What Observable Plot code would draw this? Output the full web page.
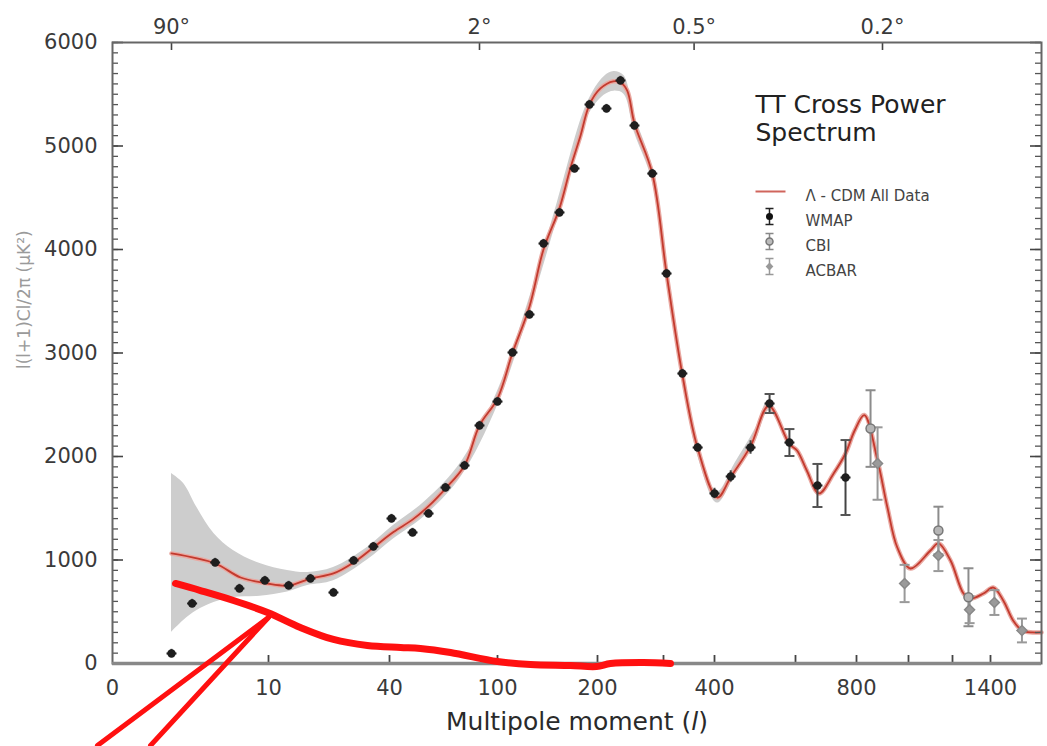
<!DOCTYPE html>
<html><head><meta charset="utf-8">
<script src="https://cdn.jsdelivr.net/npm/d3@7"></script>
<script src="https://cdn.jsdelivr.net/npm/@observablehq/plot@0.6"></script>
<style>body{margin:0;background:#fff;} #chart svg{display:block;}</style>
</head><body><div id="chart"></div>
<script>
// ---------- axis definitions ----------
const xLabelTicks = [0, 10, 40, 100, 200, 400, 800, 1400];
const xMinorTicks = [10, 40, 100, 200, 300, 400, 600, 800, 1000, 1200, 1400];
const topTickL = [2, 90, 360, 900];
const topTickLabels = ["90°", "2°", "0.5°", "0.2°"];
const yMajorTicks = [0, 1000, 2000, 3000, 4000, 5000, 6000];
const yMinorTicks = d3.range(0, 6001, 100);
const xTitle = "Multipole moment (l)";
const yTitle = "l(l+1)Cl/2π (μK²)";
const titleText = "TT Cross Power\nSpectrum";
const legendLabels = ["Λ - CDM All Data", "WMAP", "CBI", "ACBAR"];

// ---------- WMAP ----------
const wmapL = [2, 3.7, 5.6, 7.6, 9.7, 15, 20.4, 26.1, 31.1, 36, 41.1, 52.8, 61.7, 71.1, 81.7, 90, 100, 115, 132, 146, 162, 177, 192, 213.6, 234.8, 256, 283, 306, 337, 367, 400, 440, 489, 536, 585, 672, 764];
const wmapV = [97, 580, 976, 725, 802, 754, 821, 686, 995, 1130, 1401, 1266, 1449, 1700, 1913, 2300, 2531, 3005, 3372, 4058, 4358, 4783, 5401, 5362, 5633, 5198, 4734, 3768, 2802, 2087, 1643, 1807, 2087, 2512, 2135, 1720, 1797];
const wmapErr = [40, 40, 40, 40, 40, 40, 40, 40, 40, 40, 40, 40, 40, 40, 40, 40, 40, 40, 40, 40, 40, 40, 40, 40, 40, 40, 40, 40, 40, 40, 50, 55, 65, 92, 130, 208, 362];

// ---------- CBI ----------
const cbiL = [854, 1136, 1284];
const cbiV = [2270, 1285, 640];
const cbiErr = [370, 230, 280];

// ---------- ACBAR ----------
const acbarL = [881, 985, 1136, 1290, 1423, 1585];
const acbarV = [1932, 773, 1043, 520, 589, 319];
const acbarErr = [350, 180, 150, 130, 120, 115];

// ---------- Lambda-CDM model ----------
const modelL = [2, 5.6, 7.7, 9.9, 15, 20.4, 26.1, 31.1, 36, 42.2, 52.8, 61.7, 71.1, 81.7, 90, 100, 115, 132, 146, 162, 173, 183, 192, 204.5, 224, 235, 245, 256, 283, 306, 337, 367, 407, 440, 489, 534, 585, 605, 637, 677, 725, 764, 794, 830, 881, 919, 957, 1009, 1100, 1136, 1191, 1258, 1295, 1363, 1417, 1475, 1533, 1585, 1648, 1700];
const modelV = [1063, 966, 831, 773, 754, 821, 870, 976, 1121, 1270, 1390, 1520, 1690, 1913, 2300, 2560, 3000, 3450, 4000, 4400, 4790, 5100, 5400, 5556, 5625, 5613, 5536, 5217, 4734, 3768, 2790, 2080, 1604, 1800, 2100, 2490, 2120, 2058, 1865, 1643, 1836, 2029, 2251, 2400, 1961, 1507, 1121, 918, 1092, 1160, 995, 676, 628, 676, 734, 609, 415, 319, 300, 300];

// ---------- cosmic variance band ----------
const bandL = [2, 3, 4.1, 5.5, 7.1, 9.3, 14.7, 19.7, 26.1, 34.5, 42, 60, 80, 100, 130, 160, 190, 210, 225, 240, 256, 283, 306, 340, 370, 407, 450, 500, 534, 570];
const bandHi = [1836, 1739, 1507, 1256, 1092, 966, 899, 879, 927, 1120, 1330, 1570, 1950, 2630, 3470, 4460, 5420, 5670, 5720, 5680, 5300, 4800, 3840, 2790, 2100, 1660, 1930, 2260, 2540, 2270];
const bandLo = [300, 415, 512, 589, 638, 650, 690, 754, 800, 1000, 1200, 1430, 1810, 2490, 3330, 4300, 5280, 5490, 5530, 5500, 5130, 4660, 3700, 2650, 1960, 1550, 1810, 2130, 2440, 2230];

// ---------- hand-drawn red annotation ----------
const annoL = [2.33, 4.39, 7.11, 9.92, 17.9, 26.1, 34.5, 46.1, 57.2, 73.9, 100, 133, 173, 199, 219.7, 269.7, 313.7];
const annoV = [773, 705, 609, 493, 348, 232, 174, 155, 145, 106, 19, -10, -19, -29, 0, 10, 0];
const strokeAL = [-0.51, 10];
const strokeAV = [-792, 444];
const strokeBL = [1.29, 9.92];
const strokeBV = [-792, 435];

// ---------- tables ----------
const mk = (L, V, E) => L.map((l, i) => ({l, v: V[i], lo: V[i] - (E ? E[i] : 0), hi: V[i] + (E ? E[i] : 0)}));
const wmap = mk(wmapL, wmapV, wmapErr);
const cbi = mk(cbiL, cbiV, cbiErr);
const acbar = mk(acbarL, acbarV, acbarErr);
const model = mk(modelL, modelV);
const band = bandL.map((l, i) => ({l, lo: bandLo[i], hi: bandHi[i]}));
const anno = mk(annoL, annoV);
const strokes = [...mk(strokeAL, strokeAV).map(d => ({...d, k: "a"})), ...mk(strokeBL, strokeBV).map(d => ({...d, k: "b"}))];

const hline = {draw(ctx, size) { const r = Math.sqrt(size / Math.PI); ctx.moveTo(-r, 0); ctx.lineTo(r, 0); }};
const errGlyph = {draw(ctx, size) { const r = Math.sqrt(size / Math.PI); const w = r * 0.5;
  ctx.moveTo(-w, -r); ctx.lineTo(w, -r); ctx.moveTo(0, -r); ctx.lineTo(0, r); ctx.moveTo(-w, r); ctx.lineTo(w, r); }};

const FW = 929, FH = 621; // frame size
const redModel = "#c33a2e";

const chart = Plot.plot({
  width: 1047, height: 746,
  marginTop: 42, marginBottom: 83, marginLeft: 112, marginRight: 6,
  style: {fontFamily: "'DejaVu Sans', sans-serif", background: "#fff", color: "#333", fontSize: "21px"},
  x: {type: "linear", domain: [0, 2, 10, 40, 100, 200, 300, 400, 600, 800, 1000, 1200, 1400, 1700],
      range: [112, 171, 268, 389, 497, 597, 663, 714, 795, 856, 908, 952, 990, 1041]},
  y: {domain: [0, 6000]},
  marks: [
    Plot.areaY(band, {x: "l", y1: "lo", y2: "hi", fill: "#cdcdcd", curve: "catmull-rom"}),
    Plot.line(model, {x: "l", y: "v", stroke: "#e9a9a2", strokeWidth: 4.5, curve: "catmull-rom"}),
    Plot.line(model, {x: "l", y: "v", stroke: redModel, strokeWidth: 1.8, curve: "catmull-rom"}),
    // error bars
    Plot.ruleX(cbi, {x: "l", y1: "lo", y2: "hi", stroke: "#8c8c8c", strokeWidth: 2}),
    Plot.dot(cbi, {x: "l", y: "lo", symbol: hline, r: 5, stroke: "#8c8c8c", strokeWidth: 2}),
    Plot.dot(cbi, {x: "l", y: "hi", symbol: hline, r: 5, stroke: "#8c8c8c", strokeWidth: 2}),
    Plot.ruleX(acbar, {x: "l", y1: "lo", y2: "hi", stroke: "#999", strokeWidth: 2}),
    Plot.dot(acbar, {x: "l", y: "lo", symbol: hline, r: 5, stroke: "#999", strokeWidth: 2}),
    Plot.dot(acbar, {x: "l", y: "hi", symbol: hline, r: 5, stroke: "#999", strokeWidth: 2}),
    Plot.ruleX(wmap, {x: "l", y1: "lo", y2: "hi", stroke: "#444", strokeWidth: 2}),
    Plot.dot(wmap.filter(d => d.hi - d.v > 80), {x: "l", y: "lo", symbol: hline, r: 5, stroke: "#555", strokeWidth: 2}),
    Plot.dot(wmap.filter(d => d.hi - d.v > 80), {x: "l", y: "hi", symbol: hline, r: 5, stroke: "#555", strokeWidth: 2}),
    Plot.dot(wmap, {x: "l", y: "v", symbol: hline, r: 5, stroke: "#222", strokeWidth: 2}),
    Plot.dot(cbi, {x: "l", y: "v", r: 4.5, fill: "#b5b5b5", stroke: "#777", strokeWidth: 1.5}),
    Plot.dot(acbar, {x: "l", y: "v", r: 4.5, symbol: "diamond2", fill: "#9a9a9a", stroke: "#888"}),
    Plot.dot(wmap, {x: "l", y: "v", r: 4.2, fill: "#1e1e1e"}),
    // frame and inward ticks
    Plot.tickY(yMinorTicks, {y: d => d, insetRight: FW - 6, stroke: "#555", strokeWidth: 1.3}),
    Plot.tickY(yMajorTicks, {y: d => d, insetRight: FW - 11, stroke: "#444", strokeWidth: 1.6}),
    Plot.tickY(yMinorTicks, {y: d => d, insetLeft: FW - 6, stroke: "#555", strokeWidth: 1.3}),
    Plot.tickY(yMajorTicks, {y: d => d, insetLeft: FW - 11, stroke: "#444", strokeWidth: 1.6}),
    Plot.tickX(xMinorTicks, {x: d => d, insetTop: FH - 8, stroke: "#444", strokeWidth: 1.8}),
    Plot.tickX(topTickL, {x: d => d, insetBottom: FH - 8, stroke: "#444", strokeWidth: 1.6}),
    Plot.frame({stroke: "#666", strokeWidth: 2}),
    Plot.ruleY([0], {stroke: "#888", strokeWidth: 3.5}),
    // axes labels
    Plot.axisY({ticks: yMajorTicks, tickSize: 0, tickPadding: 15, tickFormat: d3.format("d"), label: null, fill: "#3a3a3a"}),
    Plot.axisX({ticks: xLabelTicks, tickSize: 0, tickPadding: 17, tickFormat: d => String(d), label: null, fill: "#3a3a3a"}),
    Plot.axisX({anchor: "top", ticks: topTickL, tickSize: 0, tickPadding: 9,
                tickFormat: d => topTickLabels[topTickL.indexOf(d)], label: null, fill: "#3a3a3a"}),
    Plot.text([xTitle], {frameAnchor: "bottom", dy: 66, fontSize: 25, fill: "#2a2a2a"}),
    Plot.text([yTitle], {frameAnchor: "left", dx: -88, dy: 16, rotate: -90, fontSize: 17, fill: "#9a9a9a"}),
    // title and legend
    Plot.text([titleText], {frameAnchor: "top-left", dx: 643, dy: 51, textAnchor: "start", lineAnchor: "top", fontSize: 25, lineHeight: 1.12, fill: "#222"}),
    Plot.text([legendLabels.join("\n")], {frameAnchor: "top-left", dx: 693, dy: 141, textAnchor: "start", lineAnchor: "top", fontSize: 15, lineHeight: 1.67, fill: "#444"}),
    Plot.dot([0], {frameAnchor: "top-left", dx: 658, dy: 149, symbol: hline, r: 15, stroke: "#d0655c", strokeWidth: 2}),
    Plot.dot([0], {frameAnchor: "top-left", dx: 657, dy: 174, symbol: errGlyph, r: 8, stroke: "#222", strokeWidth: 1.5}),
    Plot.dot([0], {frameAnchor: "top-left", dx: 657, dy: 174, r: 3.5, fill: "#111"}),
    Plot.dot([0], {frameAnchor: "top-left", dx: 657, dy: 199, symbol: errGlyph, r: 8, stroke: "#888", strokeWidth: 1.5}),
    Plot.dot([0], {frameAnchor: "top-left", dx: 657, dy: 199, r: 3.5, fill: "#bbb", stroke: "#777"}),
    Plot.dot([0], {frameAnchor: "top-left", dx: 657, dy: 224, symbol: errGlyph, r: 8, stroke: "#999", strokeWidth: 1.5}),
    Plot.dot([0], {frameAnchor: "top-left", dx: 657, dy: 224, r: 3.5, symbol: "diamond2", fill: "#999"}),
    // hand-drawn red annotation
    Plot.line(strokes, {x: "l", y: "v", z: "k", stroke: "#ff1010", strokeWidth: 5, strokeLinecap: "round"}),
    Plot.line(anno, {x: "l", y: "v", stroke: "#ff1010", strokeWidth: 7, curve: "catmull-rom", strokeLinecap: "round"})
  ]
});

// italic "l" in the x title
d3.select(chart).selectAll("text").each(function() {
  if (this.textContent === xTitle) {
    const t = d3.select(this); t.text(null);
    t.append("tspan").text("Multipole moment (");
    t.append("tspan").attr("font-style", "italic").text("l");
    t.append("tspan").text(")");
  }
});
document.getElementById("chart").appendChild(chart);
</script></body></html>
